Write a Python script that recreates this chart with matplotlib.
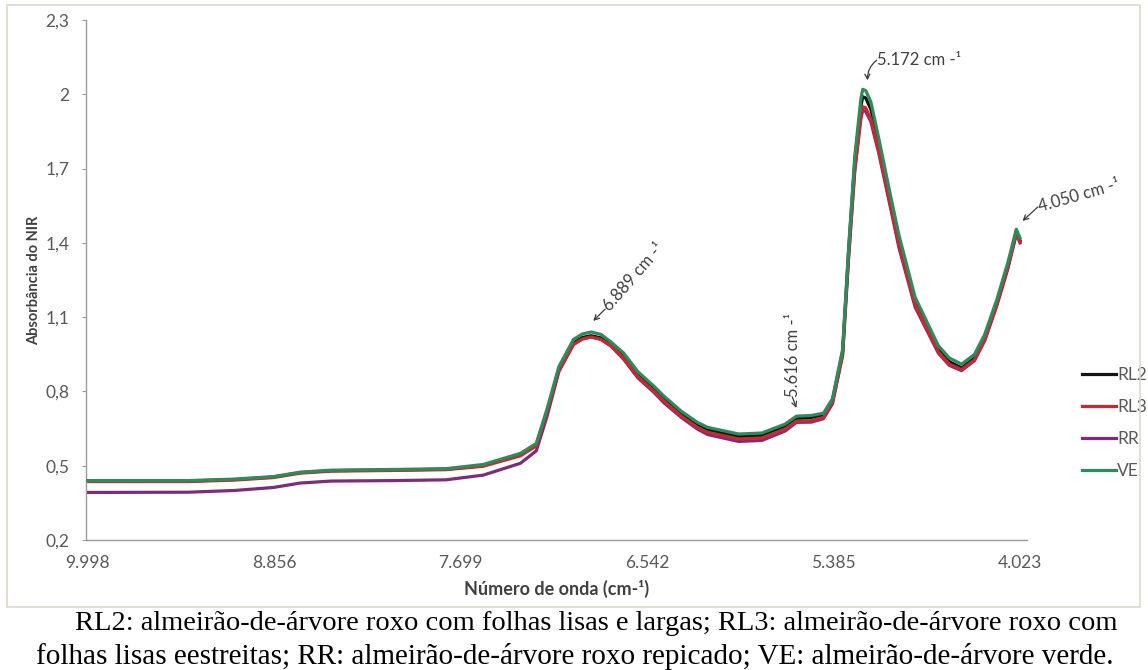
import numpy as np
import matplotlib.pyplot as plt
import matplotlib.transforms as mtrans
from matplotlib.patches import Rectangle

# NIR spectra (wavenumber in cm-1, absorbance)
wavenumber = [9998, 9381, 9100, 8863, 8695, 8503, 8100, 7791, 7559, 7328,
              7230, 7163, 7090, 6999, 6944, 6889, 6828, 6767, 6688, 6600,
              6498, 6436, 6330, 6230, 6167, 5974, 5830, 5686, 5616, 5523,
              5448, 5392, 5319, 5275, 5230, 5186, 5172, 5150, 5113, 5054,
              4980, 4907, 4789, 4620, 4539, 4450, 4355, 4281, 4193, 4112,
              4050, 4023]

rl2 = [0.438, 0.438, 0.444, 0.454, 0.472, 0.480, 0.483, 0.486, 0.500, 0.545,
       0.585, 0.720, 0.890, 0.995, 1.018, 1.025, 1.016, 0.990, 0.945, 0.870,
       0.810, 0.770, 0.710, 0.665, 0.645, 0.618, 0.622, 0.660, 0.690, 0.695,
       0.705, 0.765, 0.960, 1.370, 1.730, 1.950, 1.990, 1.985, 1.940, 1.800,
       1.600, 1.410, 1.165, 0.970, 0.920, 0.895, 0.935, 1.015, 1.155, 1.305,
       1.445, 1.410]

rl3 = [0.436, 0.436, 0.442, 0.452, 0.470, 0.478, 0.481, 0.484, 0.498, 0.540,
       0.580, 0.715, 0.885, 0.990, 1.012, 1.020, 1.010, 0.985, 0.935, 0.860,
       0.800, 0.760, 0.700, 0.655, 0.635, 0.608, 0.612, 0.648, 0.680, 0.682,
       0.695, 0.755, 0.950, 1.350, 1.700, 1.910, 1.950, 1.945, 1.900, 1.770,
       1.580, 1.390, 1.150, 0.960, 0.910, 0.888, 0.928, 1.008, 1.150, 1.300,
       1.440, 1.405]

rr = [0.392, 0.393, 0.400, 0.412, 0.430, 0.438, 0.440, 0.443, 0.462, 0.510,
      0.560, 0.700, 0.880, 0.990, 1.012, 1.020, 1.010, 0.983, 0.930, 0.855,
      0.795, 0.753, 0.695, 0.648, 0.626, 0.598, 0.602, 0.640, 0.675, 0.676,
      0.690, 0.750, 0.945, 1.340, 1.690, 1.900, 1.935, 1.930, 1.890, 1.760,
      1.570, 1.380, 1.140, 0.955, 0.905, 0.884, 0.925, 1.005, 1.145, 1.295,
      1.435, 1.400]

ve = [0.440, 0.440, 0.446, 0.456, 0.474, 0.482, 0.485, 0.488, 0.505, 0.550,
      0.590, 0.730, 0.900, 1.010, 1.032, 1.040, 1.030, 1.000, 0.955, 0.880,
      0.820, 0.780, 0.720, 0.675, 0.655, 0.628, 0.632, 0.668, 0.700, 0.703,
      0.712, 0.770, 0.970, 1.380, 1.750, 1.980, 2.020, 2.015, 1.970, 1.820,
      1.620, 1.430, 1.180, 0.985, 0.935, 0.910, 0.950, 1.030, 1.170, 1.320,
      1.455, 1.420]

series_names = ['RL2', 'RL3', 'RR', 'VE']
colors = ['#141414', '#c62a30', '#7b2d79', '#2e8b5c']

# category axis labels (Excel style)
tick_wn = [9998, 8856, 7699, 6542, 5385, 4023]
tick_labels = ['9.998', '8.856', '7.699', '6.542', '5.385', '4.023']
y_ticks = [0.2, 0.5, 0.8, 1.1, 1.4, 1.7, 2.0, 2.3]
y_labels = ['0,2', '0,5', '0,8', '1,1', '1,4', '1,7', '2', '2,3']

peak_wn = [6889, 5616, 5172, 4050]
peak_text = ['6.889 cm -\u00b9', '5.616 cm -\u00b9', '5.172 cm -\u00b9', '4.050 cm -\u00b9']

caption1 = 'RL2: almeirão-de-árvore roxo com folhas lisas e largas; RL3: almeirão-de-árvore roxo com'
caption2 = 'folhas lisas eestreitas; RR: almeirão-de-árvore roxo repicado; VE: almeirão-de-árvore verde.'


def to_pos(w):
    # position on the category axis, label i sits at i
    return np.interp(-np.asarray(w, dtype=float), -np.array(tick_wn, dtype=float),
                     np.arange(len(tick_wn), dtype=float))


plt.rcParams['font.family'] = ['Lato', 'DejaVu Sans']
W, H = 1148, 670
fig = plt.figure(figsize=(W / 100, H / 100), dpi=100)
ax = fig.add_axes([86 / W, 1 - 540 / H, (1027 - 86) / W, (540 - 20) / H])

x = to_pos(wavenumber)
ys = [rl2, rl3, rr, ve]
lines = []
for name, col, y in zip(series_names, colors, ys):
    ln, = ax.plot(x, y, color=col, lw=2.3, label=name, solid_joinstyle='round')
    lines.append(ln)
# RR under the rest, VE on top
lines[2].set_zorder(1.5)
lines[3].set_zorder(3)

ax.set_xlim(-0.01, (1027 - 88) / 186.4)
ax.set_ylim(0.2, 2.3)
ax.set_yticks(y_ticks)
ax.set_yticklabels(y_labels)
ax.set_xticks(range(len(tick_labels)))
ax.set_xticklabels(tick_labels)
ax.set_xticks([0, 2, 4], minor=True)

grey = '#595959'
for s in ['top', 'right']:
    ax.spines[s].set_visible(False)
for s in ['left', 'bottom']:
    ax.spines[s].set_color('#9a9a9a')
    ax.spines[s].set_linewidth(1.0)
ax.tick_params(axis='y', length=3, color='#9a9a9a', pad=9, labelsize=12.5, labelcolor=grey)
ax.tick_params(axis='x', which='major', length=0, pad=11, labelsize=12.5, labelcolor=grey)
ax.tick_params(axis='x', which='minor', length=4, color='#9a9a9a')

ax.set_ylabel('Absorbância do NIR', fontsize=10.5, fontweight='bold', color='#404040', labelpad=3)
ax.set_xlabel('Número de onda (cm-\u00b9)', fontsize=13, fontweight='bold', color='#404040', labelpad=6)

# peak annotations: tip offset, tail offset (from tip), text rotation  (points)
ann_tip = [(1.5, 8), (0, 6), (3.5, 6.5), (4.5, 6)]
ann_tail = [(8.5, 8.5), (-3, 8), (6.5, 14.5), (11, 10)]
ann_rot = [49, 90, 0, 16]
ann_rad = [0, 0, 0.25, 0]
for w, txt, tip, tail, rot, rad in zip(peak_wn, peak_text, ann_tip, ann_tail, ann_rot, ann_rad):
    px = to_pos(w)
    py = np.interp(-w, -np.array(wavenumber, dtype=float), ve)
    tip_tr = mtrans.offset_copy(ax.transData, fig=fig, x=tip[0], y=tip[1], units='points')
    ax.annotate('', xy=(px, py), xycoords=tip_tr,
                xytext=tail, textcoords='offset points',
                arrowprops=dict(arrowstyle='->,head_length=0.35,head_width=0.18',
                                color='#3a3a3a', lw=0.9, shrinkA=0, shrinkB=0,
                                connectionstyle='arc3,rad=%s' % rad))
    txt_tr = mtrans.offset_copy(ax.transData, fig=fig, x=tip[0] + tail[0] + 0.5,
                                y=tip[1] + tail[1], units='points')
    ax.text(px, py, txt, transform=txt_tr, rotation=rot, rotation_mode='anchor',
            ha='left', va='center', fontsize=12, color='#404040')

leg = ax.legend(loc='upper left', bbox_to_anchor=(1073 / W, 1 - 358 / H),
                bbox_transform=fig.transFigure, frameon=False, fontsize=12.5,
                handlelength=1.95, handletextpad=0.08, labelspacing=0.92, borderpad=0)
for t in leg.get_texts():
    t.set_color(grey)

# chart area border
fig.patches.append(Rectangle((7 / W, 1 - 607 / H), (1140 - 7) / W, (607 - 5) / H,
                             transform=fig.transFigure, fill=False,
                             edgecolor='#dedacb', lw=1.2))

fig.text(596 / W, 1 - 624 / H, caption1, ha='center', va='center',
         family='Liberation Serif', fontsize=20.5, color='black')
fig.text(575 / W, 1 - 657 / H, caption2, ha='center', va='center',
         family='Liberation Serif', fontsize=21, color='black')

fig.savefig('out.png', dpi=100)
